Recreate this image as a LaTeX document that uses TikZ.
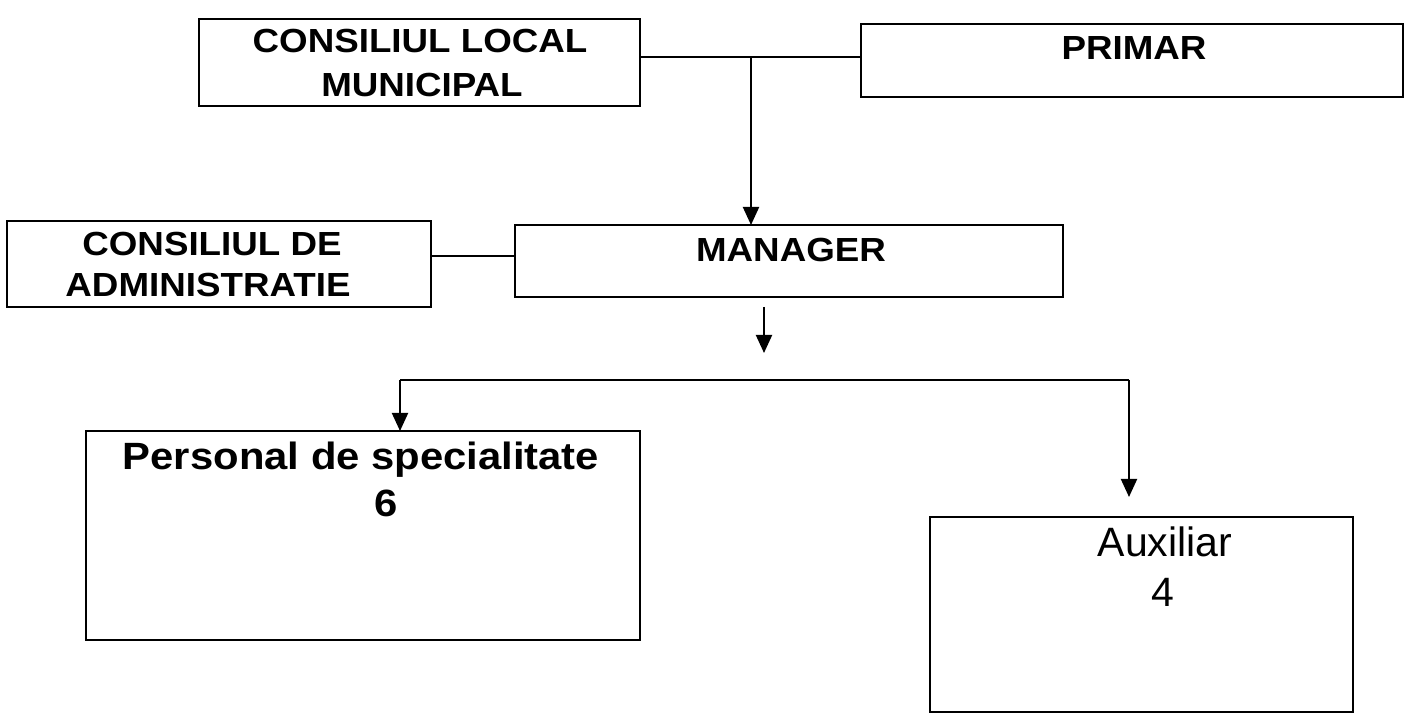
\documentclass[tikz,border=0pt]{standalone}
\usepackage{fontspec}
\setmainfont{Liberation Sans}
\newfontfamily\orgfont[FakeStretch=1.1]{Liberation Sans}
\usetikzlibrary{arrows.meta}

\begin{document}
\begin{tikzpicture}[
  x=0.5pt, y=-0.5pt,
  every node/.style={inner sep=0pt, outer sep=0pt},
  box/.style={draw, line width=0.8pt, rectangle},
  lbl/.style={font=\orgfont\bfseries\fontsize{16.7}{22}\selectfont, anchor=base},
  big/.style={font=\orgfont\bfseries\fontsize{19}{24}\selectfont, anchor=base},
  plain/.style={font=\fontsize{20.5}{24}\selectfont, anchor=base},
  link/.style={draw, line width=1pt},
  arrow/.style={link, -{Triangle[length=9pt, width=8pt]}}]

  \useasboundingbox (0,0) rectangle (1404,721);

  % boxes
  \node[box, minimum width=220.5pt, minimum height=43.5pt] (clm)     at (419.5,62.5) {};
  \node[box, minimum width=271pt,   minimum height=36.5pt] (primar)  at (1132,60.5) {};
  \node[box, minimum width=274pt,   minimum height=36pt]   (manager) at (789,261) {};
  \node[box, minimum width=212pt,   minimum height=43pt]   (admin)   at (219,264) {};
  \node[box, minimum width=277pt,   minimum height=104.5pt] (spec)   at (363,535.5) {};
  \node[box, minimum width=211.5pt, minimum height=97.5pt] (aux)     at (1141.5,614.5) {};

  % texts
  \node[lbl] at (420,53)  {CONSILIUL LOCAL};
  \node[lbl] at (422,97)  {MUNICIPAL};
  \node[lbl] at (1134,60) {PRIMAR};
  \node[lbl] at (791,262) {MANAGER};
  \node[lbl] at (212,256) {CONSILIUL DE};
  \node[lbl] at (208,297) {ADMINISTRATIE};
  \node[big] at (361,470) {Personal de specialitate};
  \node[big] at (386,517) {6};
  \node[plain] at (1165,557) {Auxiliar};
  \node[plain] at (1163,607) {4};

  % junction points
  \coordinate (top)   at (751,57);
  \coordinate (side)  at (470,256);
  \coordinate (down1) at (764,307);
  \coordinate (down2) at (764,353);
  \coordinate (forkl) at (400,380);
  \coordinate (forkr) at (1129,380);
  \coordinate (auxin) at (1129,497);

  % connectors
  \draw[link]  (clm.east |- top) -- (primar.west |- top);
  \draw[arrow] (top) -- (manager.north -| top);
  \draw[link]  (admin.east |- side) -- (manager.west |- side);
  \draw[arrow] (down1) -- (down2);
  \draw[link]  (forkl) -- (forkr);
  \draw[arrow] (forkl) -- (spec.north -| forkl);
  \draw[arrow] (forkr) -- (auxin);
\end{tikzpicture}
\end{document}
